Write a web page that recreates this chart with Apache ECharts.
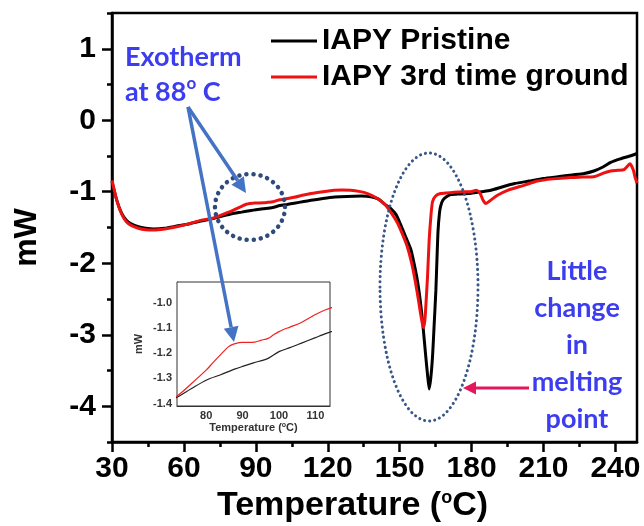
<!DOCTYPE html>
<html>
<head>
<meta charset="utf-8">
<script src="https://cdn.jsdelivr.net/npm/echarts@6/dist/echarts.min.js"></script>
<style>
  html, body { margin: 0; padding: 0; background: #fff; }
  #dsc-chart { width: 644px; height: 526px; }
</style>
</head>
<body>
<div id="dsc-chart"></div>
<script>
// DSC traces (temperature in C, heat flow in mW)
var pristine_temp = [30, 32, 34, 36, 38, 41, 44, 47.5, 52, 57, 62, 67, 72, 76, 80, 84, 88, 90, 93, 97, 100, 103, 106, 110, 113,
  118, 123, 128, 134, 138, 141, 144, 146.3, 148.5, 150.4, 152.5, 154.6, 156, 157.4, 158.5, 159.5, 160.2, 160.9, 161.6, 162.3,
  163, 163.7, 164.4, 165.1, 165.6, 166, 166.6, 167.1, 168, 169.5, 171.3, 175, 180, 184, 188, 193, 198, 204, 210, 216, 222,
  227, 231, 235, 238, 242, 246, 249];
var pristine_mw = [-0.86, -1.12, -1.30, -1.40, -1.45, -1.49, -1.51, -1.52, -1.51, -1.48, -1.45, -1.41, -1.375, -1.34, -1.307,
  -1.285, -1.262, -1.252, -1.238, -1.22, -1.193, -1.177, -1.16, -1.137, -1.12,
  -1.095, -1.075, -1.065, -1.06, -1.07, -1.10, -1.18, -1.235, -1.32, -1.46, -1.63, -1.80, -2.0, -2.24, -2.5, -2.80, -3.05, -3.31, -3.55, -3.76,
  -3.6, -3.31, -2.85, -2.38, -1.9, -1.55, -1.3, -1.2, -1.12, -1.07, -1.04, -1.03, -1.02, -1.0, -0.98, -0.93, -0.885, -0.85, -0.815, -0.79, -0.765,
  -0.745, -0.71, -0.65, -0.59, -0.54, -0.50, -0.465];

var ground_temp = [30, 32, 34, 36, 38, 41, 44, 47.5, 52, 57, 62, 67, 72, 76, 80, 82, 84.3, 86, 87.5, 89.7, 91.5, 93.3, 95, 97, 98.5,
  100, 103, 106, 110, 113, 118, 122.6, 126, 129.6, 133, 136.6, 140, 143.5, 146, 149, 151.5, 153.2, 155, 156.5, 158, 158.7, 159.5,
  160, 160.5, 160.9, 161.6, 162.3, 163, 163.7, 165, 167.1, 172, 176, 179.6, 182, 183.5, 184.8, 185.9, 187.5, 190.8, 195, 201.9,
  207.5, 214, 221.4, 226, 231, 235, 238, 241, 243.6, 246.1, 247.5, 248.2, 249];
var ground_mw = [-0.84, -1.12, -1.31, -1.42, -1.47, -1.51, -1.53, -1.535, -1.52, -1.49, -1.45, -1.40, -1.37, -1.32, -1.267, -1.235,
  -1.20, -1.175, -1.163, -1.156, -1.156, -1.155, -1.148, -1.14, -1.126,
  -1.113, -1.095, -1.078, -1.045, -1.025, -1.0, -0.98, -0.975, -0.98, -0.995, -1.025, -1.08, -1.165, -1.27, -1.43, -1.62, -1.77, -2.0,
  -2.25, -2.55, -2.70, -2.85, -2.9, -2.8, -2.61, -2.2, -1.68, -1.35, -1.14, -1.06, -1.025, -1.01, -1.0, -1.0, -0.98, -1.02, -1.12,
  -1.165, -1.13, -1.05, -0.98, -0.91, -0.85, -0.82, -0.80, -0.795, -0.79, -0.74, -0.71, -0.70, -0.69, -0.61, -0.7, -0.8, -0.88];

var x_ticks = [30, 60, 90, 120, 150, 180, 210, 240];
var x_minor_ticks = [45, 75, 105, 135, 165, 195, 225];
var y_ticks = [-4, -3, -2, -1, 0, 1];
var y_minor_ticks = [-4.5, -3.5, -2.5, -1.5, -0.5, 0.5, 1.5];
var inset_x_ticks = [80, 90, 100, 110];
var inset_y_ticks = [-1.4, -1.3, -1.2, -1.1, -1.0];

var series_names = ['IAPY Pristine', 'IAPY 3rd time ground'];

function to_pairs(t, v) {
  return t.map(function (d, i) {
    return [d, v[i]];
  });
}

function arrow(x1, y1, x2, y2, color, width, head) {
  var dx = x2 - x1, dy = y2 - y1;
  var len = Math.sqrt(dx * dx + dy * dy);
  var ux = dx / len, uy = dy / len;
  var bx = x2 - ux * head, by = y2 - uy * head;
  var hw = head * 0.5;
  return [{
    type: 'line', z: 100,
    shape: { x1: x1, y1: y1, x2: bx, y2: by },
    style: { stroke: color, lineWidth: width }
  }, {
    type: 'polygon', z: 100,
    shape: { points: [[x2, y2], [bx - uy * hw, by + ux * hw], [bx + uy * hw, by - ux * hw]] },
    style: { fill: color }
  }];
}

function draw_dsc_chart() {
  var dsc_chart = echarts.init(document.getElementById('dsc-chart'), null, { renderer: 'canvas' });
  var font = 'Liberation Sans';
  var note_blue = '#3d3df0';
  var arrow_blue = '#4472c4';

  var pristine_data = to_pairs(pristine_temp, pristine_mw);
  var ground_data = to_pairs(ground_temp, ground_mw);

  var graphics = [];
  graphics = graphics.concat(arrow(188, 107, 246, 193, arrow_blue, 3.5, 15));
  graphics = graphics.concat(arrow(188, 107, 234, 342, arrow_blue, 3.5, 15));
  graphics = graphics.concat(arrow(529, 388, 463, 388, '#e5175c', 3, 13));
  graphics.push({
    type: 'ellipse', z: 90,
    shape: { cx: 250, cy: 207, rx: 35, ry: 33 },
    style: { fill: null, stroke: '#2f4b7c', lineWidth: 4.5, lineDash: [0.1, 7], lineCap: 'round' }
  });
  graphics.push({
    type: 'ellipse', z: 90,
    shape: { cx: 429, cy: 287, rx: 49, ry: 134 },
    style: { fill: null, stroke: '#3a5688', lineWidth: 3, lineDash: [0.1, 5], lineCap: 'round' }
  });
  graphics.push({
    type: 'text', z: 100, x: 125, y: 40,
    style: {
      text: 'Exotherm\n{n|at 88}{s|o}{n| C}',
      font: 'bold 27px Lato', fill: note_blue, lineHeight: 35,
      rich: {
        n: { font: 'bold 27px Lato', fill: note_blue, verticalAlign: 'middle' },
        s: { font: 'bold 17px Lato', fill: note_blue, verticalAlign: 'top' }
      }
    }
  });
  graphics.push({
    type: 'text', z: 100, x: 577, y: 253,
    style: {
      text: 'Little\nchange\nin\nmelting\npoint',
      font: 'bold 27px Lato', fill: note_blue, lineHeight: 37, align: 'center'
    }
  });

  var option = {
    backgroundColor: '#fff',
    animation: false,
    legend: {
      data: series_names,
      orient: 'vertical',
      left: 266,
      top: 21,
      icon: 'rect',
      itemWidth: 46,
      itemHeight: 3,
      itemGap: 6,
      textStyle: { fontFamily: font, fontWeight: 'bold', fontSize: 30, color: '#000' }
    },
    grid: [{
      left: 112, right: 7, top: 13, bottom: 84, outerBoundsMode: 'none',
      show: true, borderColor: '#000', borderWidth: 2.5
    }, {
      left: 177, top: 282, width: 153, height: 124, outerBoundsMode: 'none',
      show: true, backgroundColor: '#fff', borderColor: '#333', borderWidth: 1, z: 5
    }],
    xAxis: [{
      gridIndex: 0, type: 'value', min: 30, max: 249, position: 'bottom',
      name: '{a|Temperature (}{s|o}{a|C)}',
      nameLocation: 'middle', nameGap: 46,
      nameTextStyle: {
        padding: [0, 44, 0, 0],
        rich: {
          a: { fontFamily: font, fontWeight: 'bold', fontSize: 34, color: '#000', verticalAlign: 'middle' },
          s: { fontFamily: font, fontWeight: 'bold', fontSize: 18, color: '#000', verticalAlign: 'top' }
        }
      },
      axisLine: { onZero: false, lineStyle: { color: '#000', width: 2.5 } },
      axisTick: { customValues: x_ticks, length: 10, lineStyle: { color: '#000', width: 2.5 } },
      axisLabel: { customValues: x_ticks, margin: 12, fontFamily: font, fontWeight: 'bold', fontSize: 30, color: '#000' },
      splitLine: { show: false }
    }, {
      gridIndex: 1, type: 'value', min: 72, max: 114, position: 'bottom',
      name: '{a|Temperature (}{s|o}{a|C)}',
      nameLocation: 'middle', nameGap: 16,
      nameTextStyle: {
        rich: {
          a: { fontFamily: font, fontWeight: 'bold', fontSize: 11, color: '#333', verticalAlign: 'middle' },
          s: { fontFamily: font, fontWeight: 'bold', fontSize: 7, color: '#333', verticalAlign: 'top' }
        }
      },
      axisLine: { onZero: false, lineStyle: { color: '#333', width: 1 } },
      axisTick: { customValues: inset_x_ticks, inside: true, length: 3, lineStyle: { color: '#333' } },
      axisLabel: { customValues: inset_x_ticks, margin: 4, fontFamily: font, fontWeight: 'bold', fontSize: 11, color: '#333' },
      splitLine: { show: false }
    }, {
      gridIndex: 0, type: 'value', min: 30, max: 249, position: 'bottom',
      axisLine: { show: false, onZero: false },
      axisTick: { customValues: x_minor_ticks, length: 5, lineStyle: { color: '#000', width: 2.5 } },
      axisLabel: { show: false },
      splitLine: { show: false }
    }],
    yAxis: [{
      gridIndex: 0, type: 'value', min: -4.5, max: 1.5, position: 'left',
      name: 'mW', nameLocation: 'middle', nameGap: 69, nameRotate: 90,
      nameTextStyle: { fontFamily: font, fontWeight: 'bold', fontSize: 32, color: '#000', padding: [0, 20, 0, 0] },
      axisLine: { onZero: false, lineStyle: { color: '#000', width: 2.5 } },
      axisTick: { customValues: y_ticks, length: 10, lineStyle: { color: '#000', width: 2.5 } },
      axisLabel: { customValues: y_ticks, margin: 16, fontFamily: font, fontWeight: 'bold', fontSize: 30, color: '#000' },
      splitLine: { show: false }
    }, {
      gridIndex: 1, type: 'value', min: -1.41, max: -0.915, position: 'left',
      name: 'mW', nameLocation: 'middle', nameGap: 33, nameRotate: 90,
      nameTextStyle: { fontFamily: font, fontWeight: 'bold', fontSize: 11, color: '#333' },
      axisLine: { onZero: false, lineStyle: { color: '#333', width: 1 } },
      axisTick: { customValues: inset_y_ticks, inside: true, length: 3, lineStyle: { color: '#333' } },
      axisLabel: {
        customValues: inset_y_ticks, margin: 5, fontFamily: font, fontWeight: 'bold', fontSize: 11, color: '#333',
        formatter: function (v) { return v.toFixed(1); }
      },
      splitLine: { show: false }
    }, {
      gridIndex: 0, type: 'value', min: -4.5, max: 1.5, position: 'left',
      axisLine: { show: false, onZero: false },
      axisTick: { customValues: y_minor_ticks, length: 5, lineStyle: { color: '#000', width: 2.5 } },
      axisLabel: { show: false },
      splitLine: { show: false }
    }],
    series: [{
      name: series_names[0], type: 'line', xAxisIndex: 0, yAxisIndex: 0,
      data: pristine_data, showSymbol: false, symbol: 'none', smooth: 0.2,
      color: '#000', lineStyle: { color: '#000', width: 3 }, z: 3
    }, {
      name: series_names[1], type: 'line', xAxisIndex: 0, yAxisIndex: 0,
      data: ground_data, showSymbol: false, symbol: 'none', smooth: 0.2,
      color: '#ee1111', lineStyle: { color: '#ee1111', width: 3 }, z: 4
    }, {
      name: series_names[0], type: 'line', xAxisIndex: 1, yAxisIndex: 1,
      data: pristine_data, showSymbol: false, symbol: 'none', smooth: 0.3, clip: true,
      color: '#000', lineStyle: { color: '#222', width: 1.2 }, z: 6
    }, {
      name: series_names[1], type: 'line', xAxisIndex: 1, yAxisIndex: 1,
      data: ground_data, showSymbol: false, symbol: 'none', smooth: 0.3, clip: true,
      color: '#ee1111', lineStyle: { color: '#ee2222', width: 1.2 }, z: 6
    }],
    graphic: graphics
  };

  dsc_chart.setOption(option);
  window.addEventListener('resize', function () {
    dsc_chart.resize();
  });
}

draw_dsc_chart();
</script>
</body>
</html>
